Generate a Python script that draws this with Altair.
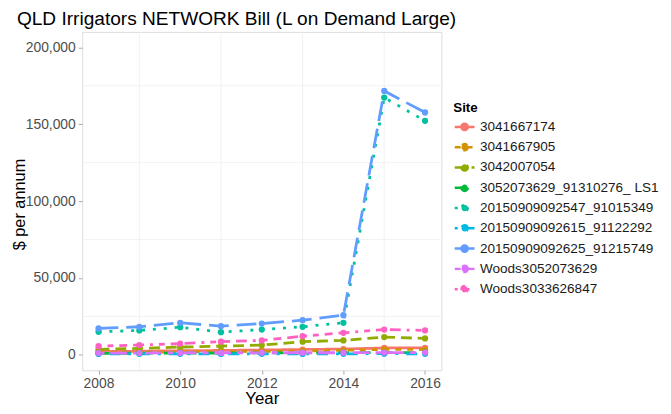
import altair as alt
import pandas as pd

years = [2008, 2009, 2010, 2011, 2012, 2013, 2014, 2015, 2016]
sites = [
    "3041667174",
    "3041667905",
    "3042007054",
    "3052073629_91310276_ LS1",
    "20150909092547_91015349",
    "20150909092615_91122292",
    "20150909092625_91215749",
    "Woods3052073629",
    "Woods3033626847",
]
s_3041667174 = [2200, 2400, 2700, 2900, 3200, 3500, 3800, 4500, 4600]
s_3041667905 = [1500, 1700, 1900, 2100, 2300, 2600, 3000, 3600, 3500]
s_3042007054 = [3600, 4200, 5100, 5700, 6400, 8600, 9400, 11600, 10700]
s_3052073629 = [1000, 1100, 1200, 1200, 1300, 1300, 1400, 1500, 1400]
s_20150909092547 = [15000, 15900, 18000, 14800, 16500, 18300, 20900, 167300, 152200]
s_20150909092615 = [600, 700, 700, 600, 700, 600, 700, 800, 700]
s_20150909092625 = [17200, 18300, 20900, 18700, 20400, 22600, 25800, 171600, 157600]
s_woods3052073629 = [1200, 1200, 1300, 1300, 1400, 1400, 1400, 1500, 1500]
s_woods3033626847 = [5700, 6400, 7300, 8600, 9400, 12200, 14400, 16500, 15900]

series = [s_3041667174, s_3041667905, s_3042007054, s_3052073629, s_20150909092547,
          s_20150909092615, s_20150909092625, s_woods3052073629, s_woods3033626847]

colors = ["#F8766D", "#D39200", "#93AA00", "#00BA38", "#00C19F",
          "#00B9E3", "#619CFF", "#DB72FB", "#FF61C3"]
dashes = [[1, 0], [6, 6], [11, 6], [11, 11], [3, 8], [3, 8, 11, 8],
          [20, 8], [6, 6, 17, 6], [3, 6, 6, 6, 8, 6, 11, 6]]

y_ticks = [0, 50000, 100000, 150000, 200000]
x_ticks = [2008, 2010, 2012, 2014, 2016]
grid_x = [2009, 2011, 2013, 2015]
grid_y = [25000, 75000, 125000, 175000]

rows = []
for site, vals in zip(sites, series):
    for yr, v in zip(years, vals):
        rows.append({"Site": site, "Year": yr, "Value": v})
df = pd.DataFrame(rows)

W, H = 363, 342

xscale = alt.Scale(domain=[2007.6, 2016.4], nice=False, zero=False)
yscale = alt.Scale(domain=[-10000, 210000], nice=False, zero=False)
cscale = alt.Scale(domain=sites, range=colors)
dscale = alt.Scale(domain=sites, range=dashes)

xaxis = alt.Axis(values=x_ticks, format="d", grid=False, domain=False,
                 tickSize=4, tickColor="#aaaaaa", labelPadding=2,
                 labelFontSize=14, labelColor="#4d4d4d", labelFont="Liberation Sans",
                 title="Year", titleFontSize=17, titleFontWeight="normal",
                 titleFont="Liberation Sans", titleColor="#000000", titlePadding=1)
yaxis = alt.Axis(values=y_ticks, format=",d", grid=False, domain=False,
                 tickSize=4, tickColor="#aaaaaa", labelPadding=3,
                 labelFontSize=14, labelColor="#4d4d4d", labelFont="Liberation Sans",
                 title="$ per annum", titleFontSize=16.5, titleFontWeight="normal",
                 titleFont="Liberation Sans", titleColor="#000000",
                 titleX=-63, titleY=174, titleBaseline="middle", titleAngle=270)

grid_color = "#ececec"
vgrid = alt.Chart(pd.DataFrame({"Year": grid_x})).mark_rule(
    color=grid_color, strokeWidth=0.7).encode(x=alt.X("Year:Q", scale=xscale, axis=xaxis))
hgrid = alt.Chart(pd.DataFrame({"Value": grid_y})).mark_rule(
    color=grid_color, strokeWidth=0.7).encode(y=alt.Y("Value:Q", scale=yscale, axis=yaxis))

path_sym = "M-1,0L1,0M0.32,0A0.32,0.32,0,1,1,-0.32,0A0.32,0.32,0,1,1,0.32,0Z"

legend = alt.Legend(
    title="Site", orient="none", legendX=375, legendY=70,
    titleFontSize=13.5, titleFontWeight="bold", titleColor="#000000",
    titleFont="Liberation Sans", titlePadding=1,
    labelFontSize=13.7, labelFont="Liberation Sans", labelColor="#1a1a1a",
    symbolType=path_sym, symbolSize=400, symbolStrokeWidth=2.5,
    labelOffset=4, rowPadding=0.5, labelLimit=300,
)

base = alt.Chart(df).encode(
    x=alt.X("Year:Q", scale=xscale, axis=xaxis),
    y=alt.Y("Value:Q", scale=yscale, axis=yaxis),
    color=alt.Color("Site:N", scale=cscale, sort=sites, legend=legend),
)

lines = base.mark_line(strokeWidth=2.8, strokeCap="butt").encode(
    strokeDash=alt.StrokeDash("Site:N", scale=dscale, sort=sites, legend=None)
)
points = base.mark_point(filled=True, size=40, opacity=1)

chart = alt.layer(vgrid, hgrid, lines, points).properties(
    width=W, height=H,
    title=alt.TitleParams("QLD Irrigators NETWORK Bill (L on Demand Large)",
                          anchor="start", frame="group", fontSize=19.3,
                          font="Liberation Sans", fontWeight="normal",
                          color="#000000", dx=-66, offset=2),
    autosize=alt.AutoSizeParams(type="none"),
    padding={"left": 75, "top": 22, "right": 224, "bottom": 40},
).configure_view(strokeWidth=0, stroke="transparent").configure(background="white")

chart.save("out.html", embed_options={"renderer": "svg", "actions": False})
